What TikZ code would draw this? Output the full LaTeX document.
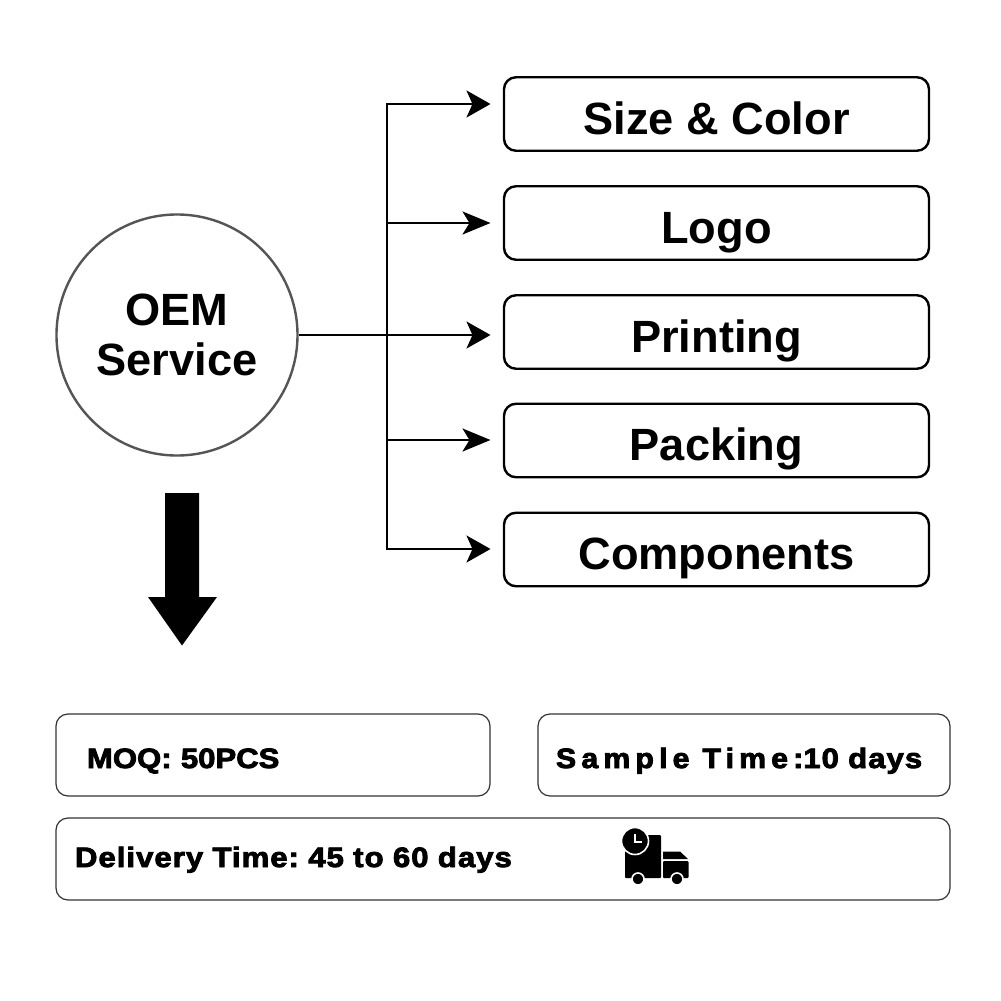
\documentclass[tikz,border=0pt]{standalone}
\usepackage{fontspec}
\usepackage{xcolor}
\usetikzlibrary{arrows.meta,positioning}
\setmainfont{Liberation Sans}
\newfontfamily\heavyfont[FakeBold=3,FakeStretch=1.11]{Liberation Sans Bold}
\newfontfamily\heavyspaced[FakeBold=3,FakeStretch=1.08,LetterSpace=18.5]{Liberation Sans Bold}
\newfontfamily\heavyloose[FakeBold=3,FakeStretch=1.11,LetterSpace=3.7]{Liberation Sans Bold}
\definecolor{ringgray}{HTML}{555555}
\definecolor{thinline}{HTML}{333333}
\frenchspacing

\begin{document}
\begin{tikzpicture}[
  x=1pt,y=-1pt,
  optbox/.style={draw,line width=2.4pt,rounded corners=12pt,minimum width=425pt,minimum height=73.5pt,inner sep=0pt,
    text height=49pt,text depth=9pt,font=\fontsize{45.2}{45.2}\selectfont\bfseries},
  infobox/.style={draw=thinline,line width=1.2pt,rounded corners=12pt,minimum height=82pt,inner ysep=0pt,align=left,
    text height=36pt,text depth=10pt,font=\fontsize{28}{28}\heavyfont},
  arr/.style={-{Stealth[length=24pt,width=27pt,inset=6pt]},line width=2.4pt},
  arrlong/.style={-{Stealth[length=28pt,width=23pt,inset=7pt]},line width=2.4pt}
]
\useasboundingbox (0,0) rectangle (1001,1001);
\fill[white] (0,0) rectangle (1001,1001);

\node[draw=ringgray,line width=2.4pt,circle,minimum size=241pt,inner sep=0pt,align=center,
  font=\fontsize{45.2}{49}\selectfont\bfseries] (oem) at (177,335) {\raisebox{1.5pt}{OEM}\\\raisebox{1pt}{Service}};

\node[optbox] (size) at (716.5,114) {Size \& Color};
\node[optbox] (logo) at (716.5,223) {Logo};
\node[optbox] (printing) at (716.5,332) {Printing};
\node[optbox] (packing) at (716.5,440.5) {Packing};
\node[optbox] (components) at (716.5,549.5) {Components};

\node[infobox,minimum width=434pt,inner xsep=31pt,text width=372pt] (moq) at (273,755) {MOQ: 50PCS};
\node[infobox,minimum width=412pt,inner xsep=18pt,text width=376pt] (sample) at (744,755)
  {{\heavyspaced Sample\hspace{13pt}Time:}{\heavyloose 10 days}};
\node[infobox,minimum width=894pt,inner xsep=19pt,text width=856pt,text height=28pt,text depth=12pt] (delivery) at (503,859)
  {{\heavyloose Delivery Time: 45 to 60 days}};

% branch points on the trunk
\coordinate (trunktop) at (387,104);
\coordinate (trunklogo) at (387,223);
\coordinate (trunkmid) at (387,335);
\coordinate (trunkpack) at (387,440);
\coordinate (trunkbot) at (387,549);
\coordinate (tipsize) at (490.5,104);
\coordinate (tiplogo) at (490.5,223);
\coordinate (tipprint) at (490.5,335);
\coordinate (tippack) at (490.5,440);
\coordinate (tipcomp) at (490.5,549);

\draw[line width=2.4pt,line cap=rect] (trunktop) -- (trunkbot);
\draw[arr] (trunktop) -- (tipsize);
\draw[arrlong] (trunklogo) -- (tiplogo);
\draw[arr] (oem.east) -- (tipprint);
\draw[arrlong] (trunkpack) -- (tippack);
\draw[arr] (trunkbot) -- (tipcomp);

% big arrow under the circle
\fill (165,493) -- (199,493) -- (199,597) -- (217,597) -- (182,645.5) -- (148,597) -- (165,597) -- cycle;

% truck icon
\fill[rounded corners=1pt] (625,835) rectangle (661,878);
\fill[rounded corners=1pt] (663,861) -- (688.5,861) -- (688.5,878) -- (663,878) -- cycle;
\fill (663,851.5) -- (680,851.5) -- (688,859) -- (663,859) -- cycle;
\fill[draw=white,line width=1.6pt] (635,841) circle (13.5pt);
\draw[white,line width=1.5pt] (635,833.5) -- (635,842) -- (642,842);
\fill[draw=white,line width=1.6pt] (638,879) circle (6pt);
\fill[draw=white,line width=1.6pt] (677,879) circle (6pt);
\end{tikzpicture}
\end{document}
